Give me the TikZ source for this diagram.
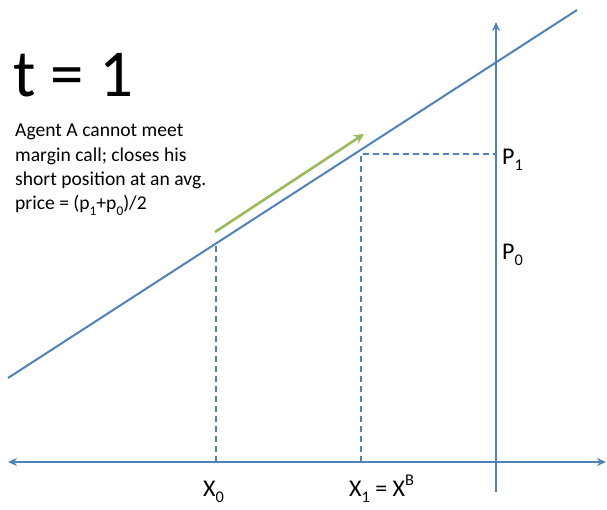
\documentclass[tikz,border=0pt]{standalone}
\usepackage{fontspec}
\setmainfont{Carlito}
\usetikzlibrary{arrows.meta,positioning,calc}
\definecolor{axisblue}{HTML}{4F81BD}
\definecolor{trendgreen}{HTML}{9BBB59}
\newcommand{\lowidx}[1]{\raisebox{-0.28em}{\scalebox{0.68}{#1}}}
\newcommand{\highidx}[1]{\raisebox{0.45em}{\scalebox{0.68}{#1}}}

\begin{document}
\begin{tikzpicture}[x=1pt, y=-1pt,
    axis/.style={axisblue, line width=2pt, {Stealth[length=9pt,width=8pt]}-{Stealth[length=9pt,width=8pt]}},
    guide/.style={axisblue, line width=1.6pt, dash pattern=on 6pt off 4pt},
    lbl/.style={font=\fontsize{24}{28}\selectfont, inner sep=0pt}]
    \useasboundingbox (0,0) rectangle (607,509);

    % Axes
    \coordinate (hleft) at (8,462);
    \coordinate (hright) at (606,462);
    \coordinate (vbot) at (496,492);
    \coordinate (vtop) at (496,22);
    \draw[axis] (hleft) -- (hright);
    \draw[axisblue, line width=2pt, -{Stealth[length=9pt,width=8pt]}] (vbot) -- (vtop);

    % Price line
    \coordinate (lstart) at (8,378);
    \coordinate (lend) at (577,10);
    \draw[axisblue, line width=2pt] (lstart) -- (lend);

    % Dashed guides
    \coordinate (x0base) at (216,462);
    \coordinate (x0top) at (216,243);
    \coordinate (x1base) at (361,462);
    \coordinate (x1top) at (361,154);
    \coordinate (p1mark) at (496,154);
    \draw[guide] (x0base) -- (x0top);
    \draw[guide] (x1base) -- (x1top) -- (p1mark);

    % Direction of the move
    \coordinate (gstart) at (215,232);
    \coordinate (gend) at (364,134);
    \draw[trendgreen, line width=2.6pt, -{Stealth[length=10pt,width=10pt]}] (gstart) -- (gend);

    % Labels
    \node[anchor=base west, inner sep=0pt, font=\fontsize{67}{74}\selectfont] (title) at (13,96) {t = 1};
    \node[anchor=north west, inner sep=0pt, align=left, font=\fontsize{19.6}{24.3}\selectfont] (note) at (15,124)
        {Agent A cannot meet\\margin call; closes his\\short position at an avg.\\price = (p\lowidx{1}+p\lowidx{0})/2};
    \node[lbl, anchor=base west] (p1) at (502,164) {P\lowidx{1}};
    \node[lbl, anchor=base west] (p0) at (502,259) {P\lowidx{0}};
    \node[lbl, anchor=base west] (x0) at (203,496) {X\lowidx{0}};
    \node[lbl, anchor=base west] (x1) at (349,496) {X\lowidx{1} = X\highidx{B}};
\end{tikzpicture}
\end{document}
